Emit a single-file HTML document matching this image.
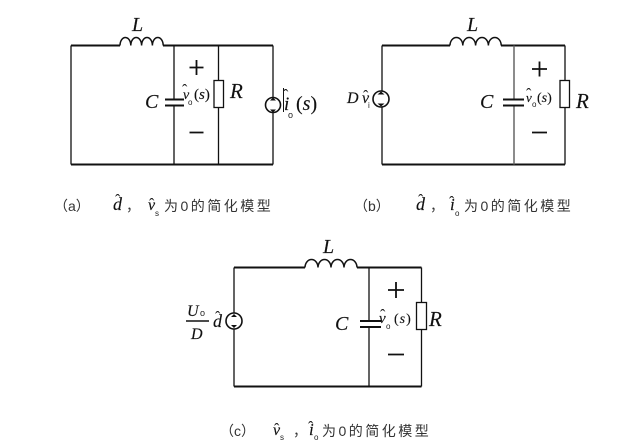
<!DOCTYPE html>
<html><head><meta charset="utf-8">
<style>
html,body{margin:0;padding:0;background:#fff;width:634px;height:442px;overflow:hidden}
svg{display:block}
.i{font-family:"Liberation Serif",serif;font-style:italic;fill:#111;stroke:#111;stroke-width:.15}
.s{font-family:"Liberation Sans",sans-serif;fill:#222}
.c{font-family:"Liberation Sans","WenQuanYi Zen Hei","Noto Sans CJK SC",sans-serif;font-size:14px;fill:#333}
.h{font-family:"Liberation Serif",serif;font-size:16px;fill:#222}
.w{fill:none;stroke:#111}
</style></head><body>
<svg width="634" height="442" viewBox="0 0 634 442" xmlns="http://www.w3.org/2000/svg">
<!-- (a) -->
<g class="w" stroke-width="1.300">
<path d="M71 45.500H120M163 45.500H273M71 164.500H273" stroke-width="2"/>
<path d="M71 45.500V164.500M174 45.500V99.500M174 105.500V164.500M218.500 45.500V80M218.500 107V164.500M273 45.500V97M273 113V164.500"/>
<path d="M120 45.500a5.400 8 0 0 1 10.800 0a5.400 8 0 0 1 10.800 0a5.400 8 0 0 1 10.800 0a5.400 8 0 0 1 10.800 0" stroke-width="1.500"/>
<path d="M165 99.500H184M165 105.500H184" stroke-width="2"/>
<rect x="214" y="80.500" width="9.500" height="27" fill="#fff"/>
<circle cx="273" cy="105" r="7.500" fill="#fff" stroke-width="1.600"/>
<path d="M189.500 67.500H203.500M196.500 60V75M189.500 132.500H203.500" stroke-width="1.800"/>
<path d="M283.500 88V112" stroke-width="1"/>
</g>
<path d="M273 97.500l-3 3h6zM273 112.500l-3-3h6z" fill="#111"/>
<text class="i" x="132" y="31" font-size="20">L</text>
<text class="i" x="145" y="108" font-size="20">C</text>
<text class="i" x="230" y="98" font-size="21">R</text>
<text class="i" x="183" y="99" font-size="14">v</text><text class="h" x="182" y="95">ˆ</text>
<text class="s" x="188" y="105" font-size="8">o</text>
<text class="i" x="194" y="99" font-size="15" style="font-style:normal">(<tspan font-style="italic">s</tspan>)</text>
<text class="i" x="284" y="110" font-size="19">i</text><text class="h" x="283" y="100">ˆ</text>
<text class="s" x="288" y="118" font-size="9">o</text>
<text class="i" x="296" y="110" font-size="20" style="font-style:normal">(<tspan font-style="italic">s</tspan>)</text>
<text class="c" x="54" y="211">（a）</text>
<text class="i" x="113" y="210" font-size="18">d</text><text class="h" x="115" y="205">ˆ</text>
<text class="c" x="126" y="211">，</text>
<text class="i" x="148" y="210" font-size="16">v</text><text class="h" x="149" y="209">ˆ</text>
<text class="s" x="155" y="216" font-size="8">s</text>
<text class="c" x="164" y="211" letter-spacing="2.500">为0的简化模型</text>
<!-- (b) -->
<g class="w" stroke-width="1.300">
<path d="M382 45.500H450M501 45.500H565M382 164.500H565" stroke-width="2"/>
<path d="M382 45.500V164.500M565 45.500V80M565 107V164.500"/>
<path d="M514 45.500V99.500M514 105.500V164.500" stroke="#666" stroke-width="1.500"/>
<path d="M450 45.500a6.400 8 0 0 1 12.800 0a6.400 8 0 0 1 12.800 0a6.400 8 0 0 1 12.800 0a6.400 8 0 0 1 12.800 0" stroke-width="1.500"/>
<path d="M503 99.500H524M503 105.500H524" stroke-width="2"/>
<rect x="560" y="80.500" width="9.500" height="27" fill="#fff"/>
<circle cx="381" cy="99" r="8" fill="#fff" stroke-width="1.600"/>
<path d="M532 69H547M539.500 61.500V76.500M532 132.500H547" stroke-width="1.800"/>
</g>
<path d="M381 91.500l-3.500 3h7zM381 106.500l-3.500-3h7z" fill="#111"/>
<text class="i" x="467" y="31" font-size="20">L</text>
<text class="i" x="480" y="108" font-size="20">C</text>
<text class="i" x="576" y="108" font-size="21">R</text>
<text class="i" x="347" y="103" font-size="16">D</text>
<text class="i" x="362" y="103" font-size="16">v</text><text class="h" x="363" y="101">ˆ</text>
<text class="s" x="368" y="108" font-size="8">i</text>
<text class="i" x="526" y="102" font-size="13">v</text><text class="h" x="526" y="99">ˆ</text>
<text class="s" x="532" y="107" font-size="8">o</text>
<text class="i" x="537" y="102" font-size="14" style="font-style:normal">(<tspan font-style="italic">s</tspan>)</text>
<text class="c" x="354" y="211">（b）</text>
<text class="i" x="416" y="210" font-size="18">d</text><text class="h" x="418" y="205">ˆ</text>
<text class="c" x="430" y="211">，</text>
<text class="i" x="450" y="210" font-size="17">i</text><text class="h" x="449" y="207">ˆ</text>
<text class="s" x="455" y="216" font-size="8">o</text>
<text class="c" x="464" y="211" letter-spacing="2.500">为0的简化模型</text>
<!-- (c) -->
<g class="w" stroke-width="1.300">
<path d="M234 267.500H305M357 267.500H421.500M234 386.500H421.500" stroke-width="2"/>
<path d="M234 267.500V386.500M369 267.500V321M369 327V386.500M421.500 267.500V302M421.500 329V386.500"/>
<path d="M305 267.500a6.500 8 0 0 1 13 0a6.500 8 0 0 1 13 0a6.500 8 0 0 1 13 0a6.500 8 0 0 1 13 0" stroke-width="1.500"/>
<path d="M360 321H381M360 327H381" stroke-width="2"/>
<rect x="416.500" y="302.500" width="10" height="27" fill="#fff"/>
<circle cx="234" cy="321" r="8" fill="#fff" stroke-width="1.600"/>
<path d="M388 290H404M396 282V298M388 354.500H404" stroke-width="1.800"/>
<path d="M186 321H209" stroke-width="1.500"/>
</g>
<path d="M234 314l-3 3h6zM234 328l-3-3h6z" fill="#111"/>
<text class="i" x="323" y="253" font-size="20">L</text>
<text class="i" x="335" y="330" font-size="20">C</text>
<text class="i" x="429" y="326" font-size="21">R</text>
<text class="i" x="187" y="316" font-size="16">U</text>
<text class="s" x="200" y="316" font-size="9">o</text>
<text class="i" x="191" y="339" font-size="16">D</text>
<text class="i" x="213" y="327" font-size="18">d</text><text class="h" x="215" y="322">ˆ</text>
<text class="i" x="379" y="323" font-size="15">v</text><text class="h" x="380" y="320">ˆ</text>
<text class="s" x="386" y="329" font-size="8">o</text>
<text class="i" x="394" y="323" font-size="14" letter-spacing="1" style="font-style:normal">(<tspan font-style="italic">s</tspan>)</text>
<text class="c" x="220" y="436">（c）</text>
<text class="i" x="273" y="435" font-size="16">v</text><text class="h" x="274" y="434">ˆ</text>
<text class="s" x="280" y="440" font-size="8">s</text>
<text class="c" x="293" y="436">，</text>
<text class="i" x="309" y="435" font-size="17">i</text><text class="h" x="308" y="432">ˆ</text>
<text class="s" x="314" y="440" font-size="8">o</text>
<text class="c" x="322" y="436" letter-spacing="2.500">为0的简化模型</text>
</svg>
</body></html>
